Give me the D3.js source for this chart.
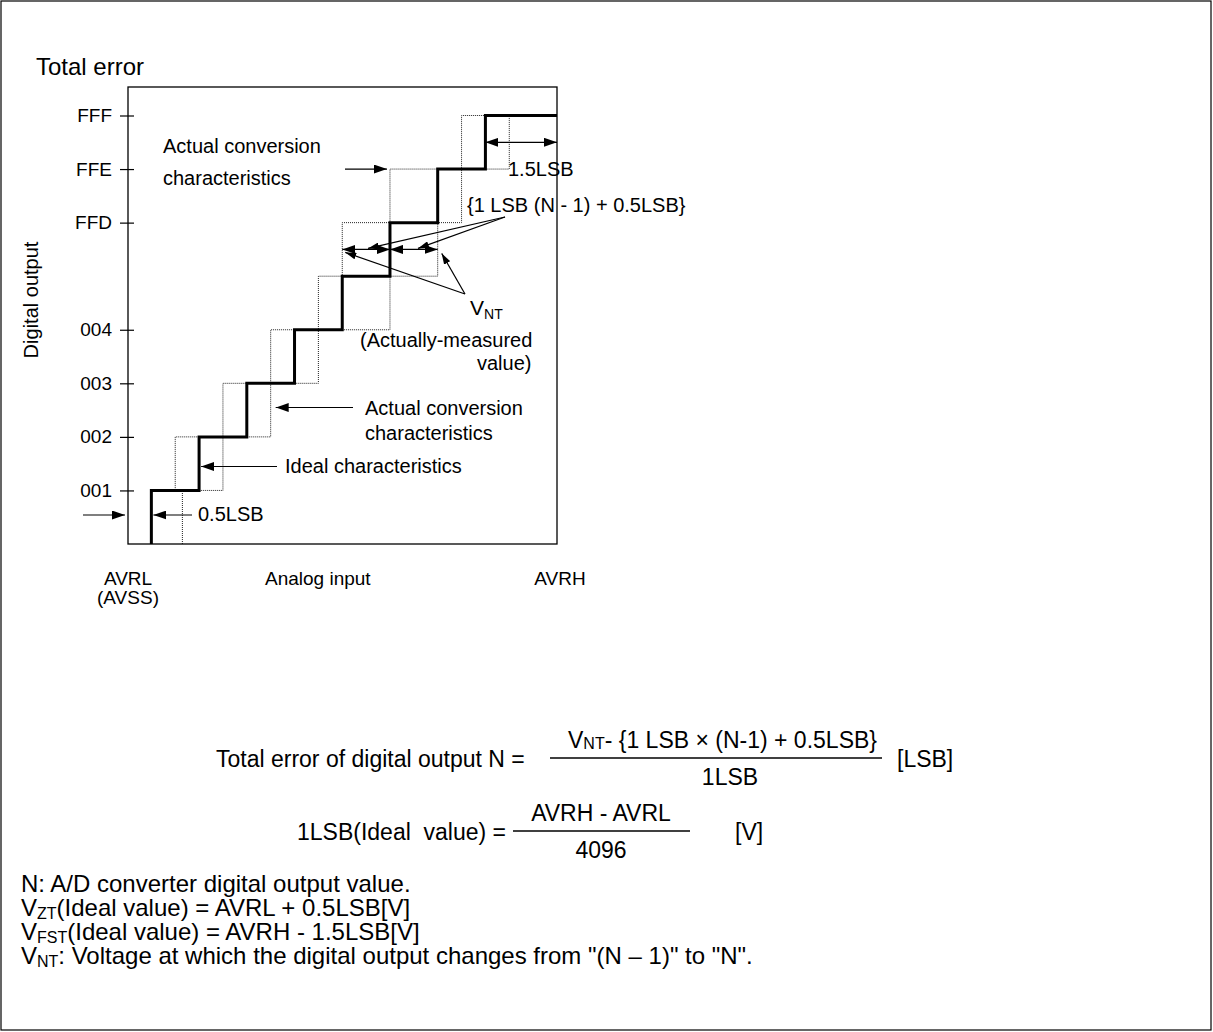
<!DOCTYPE html>
<html>
<head>
<meta charset="utf-8">
<script src="https://cdn.jsdelivr.net/npm/d3@7"></script>
<style>
  body { margin: 0; background: #fff; }
  svg text { font-family: Arial, "Liberation Sans", sans-serif; fill: #000; white-space: pre; }
</style>
</head>
<body>
<div id="chart"></div>
<script>
const width = 1213;
const height = 1032;

// Datos: niveles de salida y puntos de transicion (en LSB)
const tickLevels = [1, 2, 3, 4, 6, 7, 8];
const tickLabels = ["001", "002", "003", "004", "FFD", "FFE", "FFF"];
const idealSteps = [0.5, 1.5, 2.5, 3.5, 4.5, 5.5, 6.5, 7.5];
const actualEarlySteps = [0.5, 1, 2, 3, 4, 4.5, 5.5, 7];
const actualLateSteps = [1.15, 2, 3, 4, 5.5, 6.5, 7, 8];
const fullScale = 9; // AVRH en LSB
const topLevel = 8;

const plot = { left: 128, right: 557, top: 87, bottom: 544 };

const svg = d3
  .select("div#chart")
  .append("svg")
  .attr("width", width)
  .attr("height", height);

// borde exterior
svg.append("rect")
  .attr("x", 1).attr("y", 1)
  .attr("width", width - 3).attr("height", height - 3)
  .attr("fill", "none").attr("stroke", "#000").attr("stroke-width", 1.2);

// flechas
const defs = svg.append("defs");
function marker(id, len, wid) {
  defs.append("marker")
    .attr("id", id)
    .attr("markerUnits", "userSpaceOnUse")
    .attr("viewBox", `0 0 ${len} ${wid}`)
    .attr("refX", len).attr("refY", wid / 2)
    .attr("markerWidth", len).attr("markerHeight", wid)
    .attr("orient", "auto-start-reverse")
    .append("path")
    .attr("d", `M0,0L${len},${wid / 2}L0,${wid}Z`)
    .attr("fill", "#000");
}
marker("head", 13, 9);
marker("headSmall", 11, 7);

// Escalas
const x = d3.scaleLinear().domain([0, fullScale]).range([plot.left - 0.5, plot.right]);
const y = d3.scaleLinear().domain([0, topLevel]).range([plot.bottom, 115.5]);

const stepLine = d3.line()
  .x((d) => x(d[0]))
  .y((d) => y(d[1]))
  .curve(d3.curveStepAfter);

function stepPoints(steps) {
  return [[steps[0], 0]].concat(steps.map((s, i) => [s, i + 1]), [[fullScale, topLevel]]);
}

const chart = svg.append("g").attr("id", "chart");

// caracteristicas reales (punteadas)
[actualEarlySteps, actualLateSteps].forEach((steps) => {
  chart.append("path")
    .attr("d", stepLine(stepPoints(steps)))
    .attr("fill", "none")
    .attr("stroke", "#222")
    .attr("stroke-width", 1)
    .attr("stroke-dasharray", "1,1");
});

// caracteristica ideal
chart.append("path")
  .attr("d", stepLine(stepPoints(idealSteps)))
  .attr("fill", "none")
  .attr("stroke", "#000")
  .attr("stroke-width", 3)
  .attr("stroke-linejoin", "miter");

// marco
chart.append("rect")
  .attr("x", plot.left).attr("y", plot.top)
  .attr("width", plot.right - plot.left).attr("height", plot.bottom - plot.top)
  .attr("fill", "none").attr("stroke", "#000").attr("stroke-width", 1.3);

// eje Y
const yAxis = d3.axisLeft(y)
  .tickValues(tickLevels)
  .tickFormat((d, i) => tickLabels[i])
  .tickSize(8)
  .tickPadding(8);

const yAxisGroup = svg.append("g")
  .attr("transform", `translate(${plot.left},0)`)
  .call(yAxis);
yAxisGroup.select(".domain").remove();
yAxisGroup.selectAll(".tick line").attr("x1", 6).attr("x2", -8).attr("stroke", "#000").attr("stroke-width", 1.2);
yAxisGroup.selectAll(".tick text")
  .attr("font-size", 19)
  .attr("font-family", "Arial, 'Liberation Sans', sans-serif")
  .attr("fill", "#000");

// textos
function label(g, px, py, str, size, anchor) {
  return g.append("text")
    .attr("x", px).attr("y", py)
    .attr("font-size", size || 20)
    .attr("text-anchor", anchor || "start")
    .text(str);
}
function whiteBg(t, pad) {
  const b = t.node().getBBox();
  t.lower();
  svg.insert("rect", () => t.node())
    .attr("x", b.x - pad).attr("y", b.y - 1)
    .attr("width", b.width + pad * 2).attr("height", b.height + 2)
    .attr("fill", "#fff");
}
function arrow(g, x1, y1, x2, y2, both, small) {
  const id = small ? "headSmall" : "head";
  const l = g.append("line")
    .attr("x1", x1).attr("y1", y1).attr("x2", x2).attr("y2", y2)
    .attr("stroke", "#000").attr("stroke-width", 1.2)
    .attr("marker-end", `url(#${id})`);
  if (both) l.attr("marker-start", `url(#${id})`);
  return l;
}

const notes = svg.append("g").attr("id", "notes");

label(notes, 36, 75, "Total error", 24);

notes.append("text")
  .attr("transform", "translate(38,300) rotate(-90)")
  .attr("text-anchor", "middle")
  .attr("font-size", 20)
  .text("Digital output");

label(notes, plot.left, 585, "AVRL", 19, "middle");
label(notes, plot.left, 604, "(AVSS)", 19, "middle");
label(notes, 265, 585, "Analog input", 19);
label(notes, 560, 585, "AVRH", 19, "middle");

// etiquetas con fondo blanco que cortan el marco
const t15 = label(svg, 508, 176, "1.5LSB", 20);
whiteBg(t15, 1);
const tN = label(svg, 467, 212, "{1 LSB (N - 1) + 0.5LSB}", 20);
whiteBg(tN, 1);

const ann = svg.append("g").attr("id", "annotations");

// 1.5LSB
arrow(ann, x(idealSteps[7]), y(7.5), x(fullScale), y(7.5), true);

// Actual conversion characteristics (arriba)
label(ann, 163, 153, "Actual conversion", 20);
label(ann, 163, 185, "characteristics", 20);
arrow(ann, 345, y(7), x(5.5) - 3, y(7), false);

// flechas dobles en VNT
arrow(ann, x(4.5), y(5.5), x(5.5), y(5.5), true);
arrow(ann, x(5.5), y(5.5), x(6.5), y(5.5), true);
arrow(ann, 505, 217, 368, y(5.5) - 1, false, true);
arrow(ann, 505, 217, 418, y(5.5) - 1, false, true);

// VNT
arrow(ann, 465, 294, x(4.5) + 3, y(5.5) + 3, false, true);
arrow(ann, 465, 294, x(6.5) + 4, y(5.5) + 4, false, true);
const vnt = label(ann, 470, 315, "V", 21);
vnt.append("tspan").attr("font-size", 14).attr("dy", 4).text("NT");
label(ann, 360, 347, "(Actually-measured", 20);
label(ann, 477, 370, "value)", 20);

// Actual conversion characteristics (abajo)
arrow(ann, 353, 407.5, x(3) + 5, 407.5, false);
label(ann, 365, 415, "Actual conversion", 20);
label(ann, 365, 440, "characteristics", 20);

// Ideal characteristics
arrow(ann, 277, 466.5, x(1.5) + 2, 466.5, false);
label(ann, 285, 473, "Ideal characteristics", 20);

// 0.5LSB
arrow(ann, 192, 515, x(0.5) + 2, 515, false);
label(ann, 198, 521, "0.5LSB", 20);
arrow(ann, 83, 515, plot.left - 3, 515, false);

// formulas
const f = svg.append("g").attr("id", "formulas");
label(f, 216, 767, "Total error of digital output N =", 23);
f.append("line").attr("x1", 550).attr("x2", 882).attr("y1", 758).attr("y2", 758)
  .attr("stroke", "#000").attr("stroke-width", 1.5);
const num = label(f, 568, 748, "V", 23);
num.append("tspan").attr("font-size", 16).attr("dy", 1).text("NT");
num.append("tspan").attr("dy", -1).text("- {1 LSB × (N-1) + 0.5LSB}");
label(f, 730, 785, "1LSB", 23, "middle");
label(f, 897, 767, "[LSB]", 23);

label(f, 297, 840, "1LSB(Ideal  value) =", 23);
f.append("line").attr("x1", 513).attr("x2", 690).attr("y1", 831).attr("y2", 831)
  .attr("stroke", "#000").attr("stroke-width", 1.5);
label(f, 601, 821, "AVRH - AVRL", 23, "middle");
label(f, 601, 858, "4096", 23, "middle");
label(f, 735, 840, "[V]", 23);

// notas
const lines = [
  ["", "", "N: A/D converter digital output value."],
  ["V", "ZT", "(Ideal value) = AVRL + 0.5LSB[V]"],
  ["V", "FST", "(Ideal value) = AVRH - 1.5LSB[V]"],
  ["V", "NT", ": Voltage at which the digital output changes from \"(N – 1)\" to \"N\"."],
];
lines.forEach((l, i) => {
  const t = label(f, 21, 892 + i * 24, l[0], 24);
  if (l[1]) {
    t.append("tspan").attr("font-size", 16).attr("dy", 3).text(l[1]);
    t.append("tspan").attr("dy", -3).text(l[2]);
  } else {
    t.text(l[2]);
  }
});
</script>
</body>
</html>
